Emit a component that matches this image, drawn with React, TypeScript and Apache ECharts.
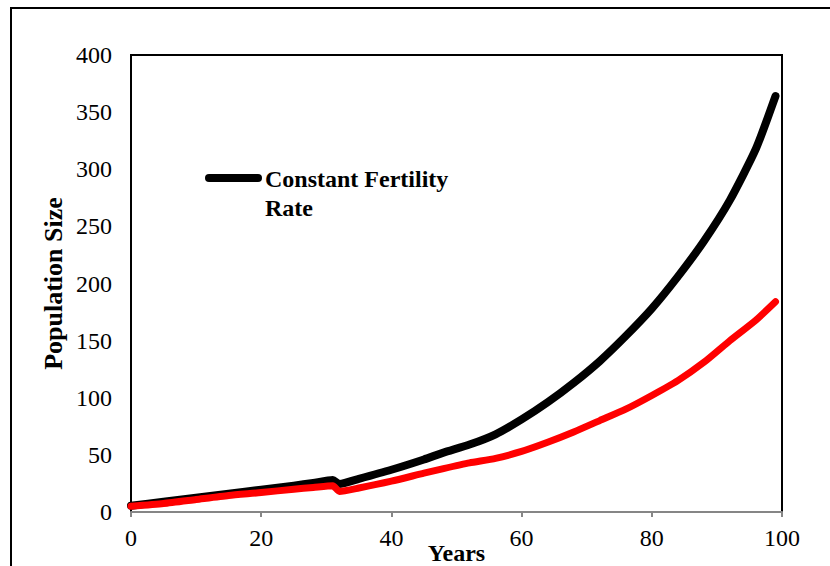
import React, { useEffect, useRef } from "react";
import * as echarts from "echarts";

const constantYears = [0, 5, 10, 15, 20, 25, 28, 31, 32, 35, 40, 45, 48, 52, 56, 60, 64, 68, 72, 76, 80, 84, 88, 92, 96, 99];
const constantValues = [5.5, 9, 12.5, 16, 19.5, 23, 25.5, 28, 24.5, 29, 37, 46, 52, 59, 68, 81, 96, 113, 132, 154, 178, 206, 237, 273, 318, 364];
const otherYears = [0, 5, 10, 15, 20, 25, 28, 31, 32, 35, 40, 45, 48, 52, 56, 60, 64, 68, 72, 76, 80, 84, 88, 92, 96, 99];
const otherValues = [5, 7.5, 11, 14.5, 17, 20, 21.5, 23, 18, 21, 27, 34, 38, 43, 47, 53, 61, 70, 80, 90, 102, 115, 131, 150, 168, 184];
const legendLabel = "Constant Fertility\nRate";
const xTitle = "Years";
const yTitle = "Population Size";

const SERIF = "'Times New Roman', 'Liberation Serif', serif";

export default function App() {
  const ref = useRef<HTMLDivElement>(null);
  useEffect(() => {
    if (!ref.current) return;
    const chart = echarts.init(ref.current, undefined, { renderer: "svg" });
    const black = constantYears.map((x, i) => [x, constantValues[i]]);
    const red = otherYears.map((x, i) => [x, otherValues[i]]);
    chart.setOption({
      animation: false,
      backgroundColor: "#ffffff",
      grid: {
        left: 131,
        right: 48,
        top: 55,
        bottom: 54,
        containLabel: false,
        outerBoundsMode: "none",
        show: true,
        borderColor: "#000000",
        borderWidth: 2,
        backgroundColor: "transparent",
      },
      xAxis: {
        type: "value",
        min: 0,
        max: 100,
        interval: 20,
        name: xTitle,
        nameLocation: "middle",
        nameGap: 29,
        nameMoveOverlap: false,
        nameTextStyle: { fontFamily: SERIF, fontWeight: "bold", fontSize: 24, color: "#000" },
        axisLine: { show: true, lineStyle: { color: "#868686", width: 2 } },
        axisTick: { show: true, inside: false, length: 5, lineStyle: { color: "#868686", width: 2 } },
        axisLabel: { fontFamily: SERIF, fontSize: 24, color: "#000", margin: 14 },
        splitLine: { show: false },
      },
      yAxis: {
        type: "value",
        min: 0,
        max: 400,
        interval: 50,
        name: yTitle,
        nameLocation: "middle",
        nameRotate: 90,
        nameGap: 65,
        nameMoveOverlap: false,
        nameTextStyle: { fontFamily: SERIF, fontWeight: "bold", fontSize: 26, color: "#000" },
        axisLine: { show: true, lineStyle: { color: "#000", width: 2 } },
        axisTick: { show: false },
        axisLabel: { fontFamily: SERIF, fontSize: 24, color: "#000", margin: 19 },
        splitLine: { show: false },
      },
      graphic: [
        {
          type: "rect",
          silent: true,
          shape: { x: 11, y: 8, width: 900, height: 700 },
          style: { fill: "none", stroke: "#000", lineWidth: 2 },
          z: 100,
        },
        {
          type: "line",
          silent: true,
          shape: { x1: 209, y1: 178, x2: 258, y2: 178 },
          style: { stroke: "#000", lineWidth: 8, lineCap: "round" },
          z: 100,
        },
        {
          type: "text",
          silent: true,
          x: 265,
          y: 164,
          style: {
            text: legendLabel,
            font: `bold 24px ${SERIF}`,
            fill: "#000",
            lineHeight: 29,
            verticalAlign: "top",
            align: "left",
          },
          z: 100,
        },
      ],
      series: [
        {
          name: "Constant Fertility Rate",
          type: "line",
          data: black,
          showSymbol: false,
          symbol: "none",
          smooth: 0.2,
          lineStyle: { color: "#000", width: 8, cap: "round", join: "round" },
          z: 2,
        },
        {
          name: "Other",
          type: "line",
          data: red,
          showSymbol: false,
          symbol: "none",
          smooth: 0.2,
          lineStyle: { color: "#ff0000", width: 7, cap: "round", join: "round" },
          z: 3,
        },
      ],
    });
    return () => chart.dispose();
  }, []);
  return (
    <div
      ref={ref}
      style={{ position: "fixed", left: 0, top: 0, width: 830, height: 566 }}
    />
  );
}
